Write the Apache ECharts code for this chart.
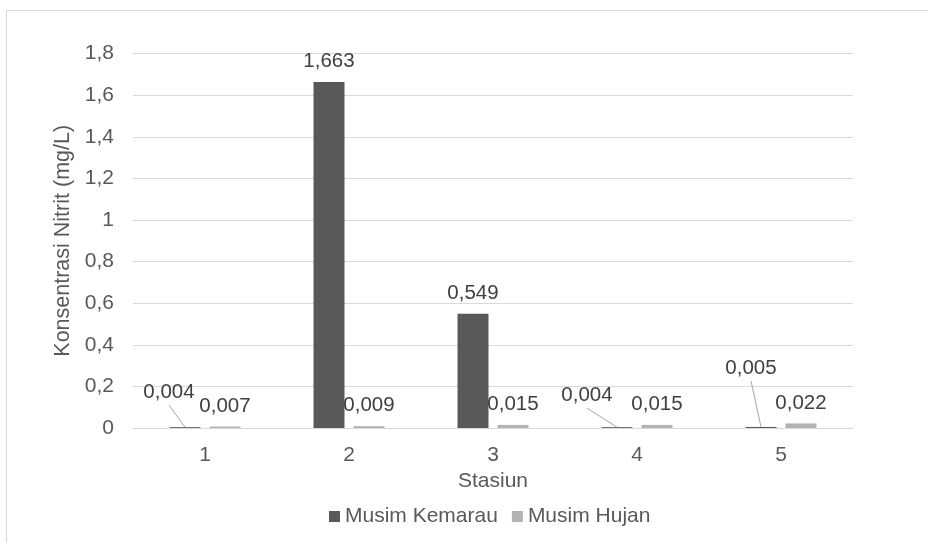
<!DOCTYPE html>
<html>
<head>
<meta charset="utf-8">
<script src="https://cdn.jsdelivr.net/npm/echarts@6/dist/echarts.min.js"></script>
<style>
  html, body { margin: 0; padding: 0; background: #ffffff; }
  #chart { width: 928px; height: 543px; }
</style>
</head>
<body>
<div id="chart"></div>
<script>
// Nitrite concentration per station, dry vs. rainy season
const stations = ['1', '2', '3', '4', '5'];
const musimKemarau = [0.004, 1.663, 0.549, 0.004, 0.005];
const musimHujan = [0.007, 0.009, 0.015, 0.015, 0.022];
const yTicks = { min: 0, max: 1.8, step: 0.2 };

// Small dry-season labels are pulled aside and tied back with a leader line
const kemarauLabelShift = [[-16, -14], null, null, [-30, -11], [-10, -38]];

const FONT = '"Liberation Sans", Arial, sans-serif';
const FS = 21;
const BAR_WIDTH = 31;
const BAR_GAP = 0.29;
const LABEL_DIST = 10;
const fmt = v => String(v).replace('.', ',');

const chart = echarts.init(document.getElementById('chart'), null, { renderer: 'canvas' });

const labelStyle = {
  show: true, position: 'top', distance: LABEL_DIST,
  fontFamily: FONT, fontSize: 20.5, color: '#404040',
  formatter: p => fmt(p.value)
};

chart.setOption({
  backgroundColor: '#ffffff',
  animation: false,
  textStyle: { fontFamily: FONT },
  graphic: [{
    id: 'frame',
    type: 'rect',
    shape: { x: 6.5, y: 10.5, width: 1000, height: 1000 },
    style: { fill: 'none', stroke: '#d9d9d9', lineWidth: 1 },
    silent: true, z: -10
  }],
  grid: { left: 133, right: 75, top: 53.6, bottom: 115 },
  legend: {
    left: 324, top: 501,
    itemWidth: 11, itemHeight: 11, itemGap: 14,
    icon: 'rect',
    textStyle: { fontFamily: FONT, fontSize: FS, color: '#595959' },
    data: ['Musim Kemarau', 'Musim Hujan']
  },
  xAxis: {
    type: 'category',
    data: stations,
    name: 'Stasiun',
    nameLocation: 'middle',
    nameGap: 41,
    nameTextStyle: { fontFamily: FONT, fontSize: FS, color: '#595959' },
    axisTick: { show: false },
    axisLine: { lineStyle: { color: '#d9d9d9', width: 1 } },
    axisLabel: { margin: 17, fontFamily: FONT, fontSize: FS, color: '#595959' }
  },
  yAxis: {
    type: 'value',
    min: yTicks.min, max: yTicks.max, interval: yTicks.step,
    name: 'Konsentrasi Nitrit (mg/L)',
    nameLocation: 'middle',
    nameGap: 56,
    nameTextStyle: { fontFamily: FONT, fontSize: 21.5, color: '#595959' },
    axisLine: { show: false },
    axisTick: { show: false },
    splitLine: { lineStyle: { color: '#d9d9d9', width: 1 } },
    axisLabel: {
      margin: 19, fontFamily: FONT, fontSize: FS, color: '#595959',
      formatter: v => fmt(+v.toFixed(1))
    }
  },
  series: [
    {
      name: 'Musim Kemarau',
      type: 'bar',
      data: musimKemarau,
      barWidth: BAR_WIDTH,
      barGap: (BAR_GAP * 100) + '%',
      itemStyle: { color: '#595959' },
      label: labelStyle,
      labelLayout: p => {
        const s = kemarauLabelShift[p.dataIndex];
        return s ? { dx: s[0], dy: s[1] } : {};
      }
    },
    {
      name: 'Musim Hujan',
      type: 'bar',
      data: musimHujan,
      barWidth: BAR_WIDTH,
      barGap: (BAR_GAP * 100) + '%',
      itemStyle: { color: '#b3b3b3' },
      label: labelStyle
    }
  ]
});

// Leader lines: from the top centre of each dry-season bar to its shifted label
const barOffset = -(BAR_WIDTH + BAR_WIDTH * BAR_GAP) / 2;
const leaders = [];
musimKemarau.forEach((v, i) => {
  const s = kemarauLabelShift[i];
  if (!s) return;
  const pt = chart.convertToPixel({ xAxisIndex: 0, yAxisIndex: 0 }, [i, v]);
  const x0 = pt[0] + barOffset;
  const y0 = pt[1];
  leaders.push({
    id: 'leader' + i,
    type: 'line',
    shape: { x1: x0, y1: y0, x2: x0 + s[0], y2: y0 - LABEL_DIST + s[1] + 2 },
    style: { stroke: '#a6a6a6', lineWidth: 1 },
    silent: true, z: 5
  });
});
chart.setOption({ graphic: leaders });
</script>
</body>
</html>
